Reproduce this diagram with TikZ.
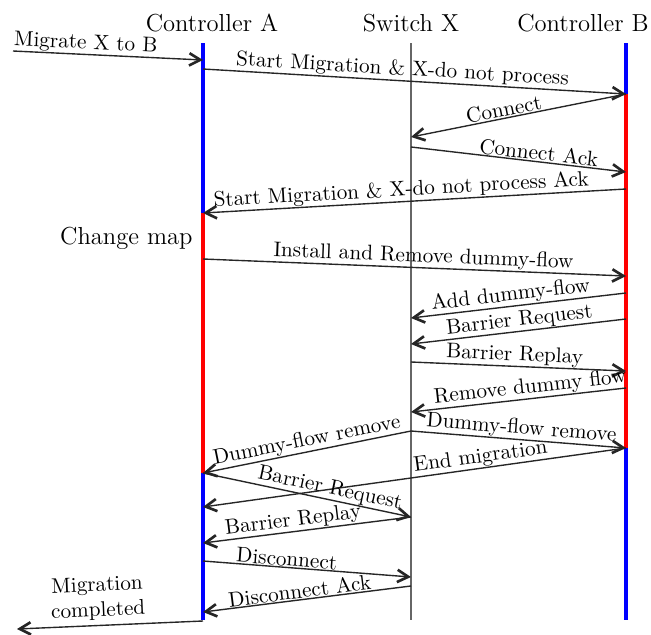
\documentclass[tikz,border=0pt]{standalone}
\usetikzlibrary{arrows.meta}
\begin{document}
\begin{tikzpicture}[x=0.4717pt,y=-0.4717pt,
  lifeline/.style={line width=1.6pt},
  swline/.style={draw=black!60,line width=0.7pt},
  msg/.style={draw=black!85,line width=0.65pt,
    -{Straight Barb[length=5.2pt,width=5.8pt,line width=1.25pt]}},
  lbl/.style={sloped,above,inner sep=0.3pt},
  head/.style={font=\fontsize{11.6}{13.5}\selectfont,inner sep=0pt}]
\useasboundingbox (0,0) rectangle (651,635);

% lifeline ends
\coordinate (Atop) at (203,43); \coordinate (Abot) at (203,620);
\coordinate (Xtop) at (411,43); \coordinate (Xbot) at (411,620);
\coordinate (Btop) at (626,43); \coordinate (Bbot) at (626,620);

% message end points on Controller A, Switch X and Controller B
\foreach \n/\y in {a1/60,a2/69,a3/213,a4/259,a5/473,a6/507,a7/543,a8/561,a9/612,a10/621}
  \coordinate (\n) at (203,\y);
\foreach \n/\y in {x1/137,x2/147,x3/318,x4/344,x5/362,x6/412,x7/431,x8/517,x9/577,x10/586}
  \coordinate (\n) at (411,\y);
\foreach \n/\y in {b1/94,b2/172,b3/189,b4/276,b5/293,b6/319,b7/371,b8/388,b9/448}
  \coordinate (\n) at (626,\y);
\coordinate (in) at (13,51);
\coordinate (out) at (17,629);

% headers
\node[head] (hA) at (212,23) {Controller A};
\node[head] (hX) at (411,23) {Switch X};
\node[head] (hB) at (583,23) {Controller B};

% lifelines
\draw[lifeline,blue] (Atop) -- (a3);
\draw[lifeline,red]  (a3) -- (a5);
\draw[lifeline,blue] (a5) -- (Abot);
\draw[swline] (Xtop) -- (Xbot);
\draw[lifeline,blue] (Btop) -- (b1);
\draw[lifeline,red]  (b1) -- (b9);
\draw[lifeline,blue] (b9) -- (Bbot);

\node[head,anchor=east] (cm) at (193,238) {Change map};

% messages
\draw[msg] (in) -- node[lbl,pos=0.38] {Migrate X to B} (a1);
\draw[msg] (a2) -- node[lbl,pos=0.47] {Start Migration \& X-do not process} (b1);
\draw[msg] (b1) -- node[lbl,pos=0.56] {Connect} (x1);
\draw[msg] (x2) -- node[lbl,pos=0.59] {Connect Ack} (b2);
\draw[msg] (b3) -- node[lbl,pos=0.53] {Start Migration \& X-do not process Ack} (a3);
\draw[msg] (a4) -- node[lbl,pos=0.52] {Install and Remove dummy-flow} (b4);
\draw[msg] (b5) -- node[lbl,pos=0.53] {Add dummy-flow} (x3);
\draw[msg] (b6) -- node[lbl,pos=0.49] {Barrier Request} (x4);
\draw[msg] (x5) -- node[lbl,pos=0.48] {Barrier Replay} (b7);
\draw[msg] (b8) -- node[lbl,pos=0.44] {Remove dummy flow} (x6);
\draw[msg] (x7) -- node[lbl,pos=0.49] {Dummy-flow remove} (a5);
\draw[msg] (x7) -- node[lbl,pos=0.51] {Dummy-flow remove} (b9);
\draw[msg] (b9) -- node[lbl,pos=0.34] {End migration} (a6);
\draw[msg] (a5) -- node[lbl,pos=0.6] {Barrier Request} (x8);
\draw[msg] (x8) -- node[lbl,pos=0.56] {Barrier Replay} (a7);
\draw[msg] (a8) -- node[lbl,pos=0.4] {Disconnect} (x9);
\draw[msg] (x10) -- node[lbl,pos=0.53] {Disconnect Ack} (a9);
\draw[msg] (a10) -- node[lbl,pos=0.56,align=center,inner sep=2pt] {Migration\\completed} (out);
\end{tikzpicture}
\end{document}
